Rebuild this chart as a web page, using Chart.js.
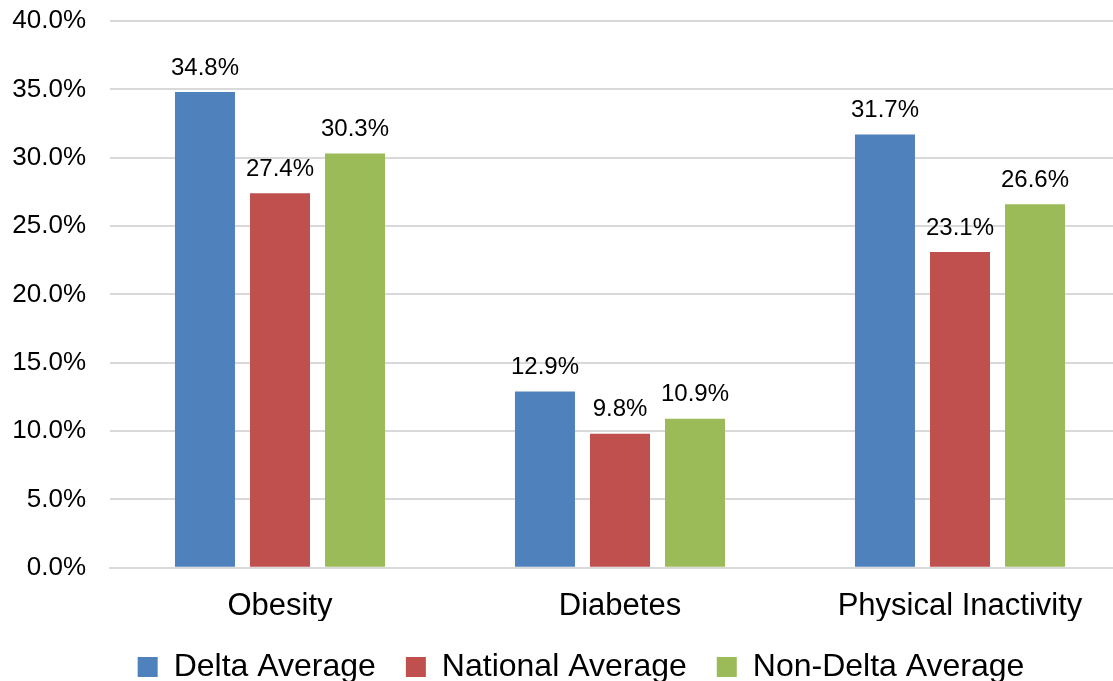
<!DOCTYPE html>
<html>
<head>
<meta charset="utf-8">
<script src="https://cdn.jsdelivr.net/npm/chart.js@4"></script>
<style>
  html, body { margin: 0; padding: 0; background: #fff; overflow: hidden; }
  #wrap { width: 1130px; height: 681px; }
</style>
</head>
<body>
<div id="wrap"><canvas id="barChart"></canvas></div>
<script>
const categories = ['Obesity', 'Diabetes', 'Physical Inactivity'];
const deltaAverage = [34.8, 12.9, 31.7];
const nationalAverage = [27.4, 9.8, 23.1];
const nonDeltaAverage = [30.3, 10.9, 26.6];
const yMax = 40;
const yStep = 5;

// labels above each bar
const valueLabels = {
  id: 'valueLabels',
  afterLayout(chart) {
    // nudge the legend to the right, like the original
    chart.legend.left += 16;
    chart.legend.right += 16;
  },
  afterDatasetsDraw(chart) {
    const ctx = chart.ctx;
    ctx.save();
    ctx.font = '24px "Liberation Sans", Arial, sans-serif';
    ctx.fillStyle = '#000';
    ctx.textAlign = 'center';
    ctx.textBaseline = 'middle';
    chart.data.datasets.forEach((ds, i) => {
      chart.getDatasetMeta(i).data.forEach((bar, j) => {
        ctx.fillText(ds.data[j].toFixed(1) + '%', bar.x, bar.y - 24);
      });
    });
    ctx.restore();
  }
};

const ctx = document.getElementById('barChart').getContext('2d');
new Chart(ctx, {
  type: 'bar',
  data: {
    labels: categories,
    datasets: [
      { label: 'Delta Average', data: deltaAverage, backgroundColor: '#4F81BD' },
      { label: 'National Average', data: nationalAverage, backgroundColor: '#C0504D' },
      { label: 'Non-Delta Average', data: nonDeltaAverage, backgroundColor: '#9BBB59' }
    ]
  },
  options: {
    responsive: true,
    maintainAspectRatio: false,
    animation: false,
    layout: { padding: { left: 0, right: 0, top: 21, bottom: -12 } },
    datasets: {
      bar: { categoryPercentage: 0.662, barPercentage: 0.8 }
    },
    plugins: {
      tooltip: { enabled: false },
      legend: {
        position: 'bottom',
        labels: {
          color: '#000',
          font: { family: '"Liberation Sans", Arial, sans-serif', size: 32 },
          boxWidth: 20,
          boxHeight: 20,
          padding: 30
        }
      }
    },
    scales: {
      x: {
        afterFit(scale) { scale.height = scale.height - 16; },
        grid: { display: false },
        border: { display: true, color: '#D9D9D9', width: 2 },
        ticks: {
          color: '#000',
          padding: 12,
          font: { family: '"Liberation Sans", Arial, sans-serif', size: 31 }
        }
      },
      y: {
        min: 0,
        max: yMax,
        afterFit(scale) {
          scale.width = 110;
          scale.paddingTop = 0;
        },
        grid: { color: '#D9D9D9', lineWidth: 2, drawTicks: false },
        border: { display: false },
        ticks: {
          stepSize: yStep,
          color: '#000',
          padding: 24,
          font: { family: '"Liberation Sans", Arial, sans-serif', size: 26 },
          callback: v => Number(v).toFixed(1) + '%'
        }
      }
    }
  },
  plugins: [valueLabels]
});
</script>
</body>
</html>
